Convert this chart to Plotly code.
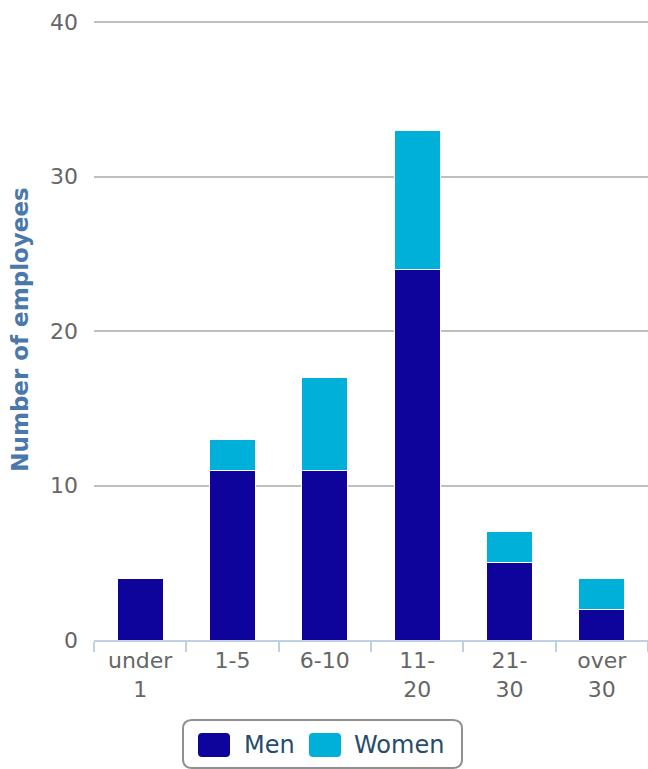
import plotly.graph_objects as go

categories = ["under<br>1", "1-5", "6-10", "11-<br>20", "21-<br>30", "over<br>30"]
men = [4, 11, 11, 24, 5, 2]
women = [0, 2, 6, 9, 2, 2]
series = [("Men", men, "#0e039b"), ("Women", women, "#00b0d8")]
y_ticks = [0, 10, 20, 30, 40]

W, H = 648, 769
ML, MR, MT, MB = 94, 0, 19, 129
PW, PH = W - ML - MR, H - MT - MB


def px(x):
    return (x - ML) / PW


def py(y):
    return (H - MB - y) / PH


def rounded_rect(x0, y0, x1, y1, r):
    # pixel coords -> paper path
    pts = [
        ("M", (x0 + r, y0)), ("L", (x1 - r, y0)), ("Q", (x1, y0), (x1, y0 + r)),
        ("L", (x1, y1 - r)), ("Q", (x1, y1), (x1 - r, y1)), ("L", (x0 + r, y1)),
        ("Q", (x0, y1), (x0, y1 - r)), ("L", (x0, y0 + r)), ("Q", (x0, y0), (x0 + r, y0)),
    ]
    s = ""
    for p in pts:
        cmd = p[0]
        coords = " ".join(f"{px(a):.5f},{py(b):.5f}" for a, b in p[1:])
        s += f"{cmd}{coords} "
    return s + "Z"


fig = go.Figure()
for name, vals, color in series:
    fig.add_trace(go.Bar(x=categories, y=vals, name=name,
                         marker=dict(color=color, line=dict(color="white", width=1)),
                         showlegend=False))

shapes = [dict(type="path", xref="paper", yref="paper",
               path=rounded_rect(183, 720, 462, 768, 9),
               line=dict(color="#909090", width=2), fillcolor="white", layer="above")]
annotations = []
legend_items = [(198, 242), (309, 352)]
for (name, vals, color), (sx, tx) in zip(series, legend_items):
    shapes.append(dict(type="path", xref="paper", yref="paper",
                       path=rounded_rect(sx, 733, sx + 32, 757, 4),
                       line=dict(width=0), fillcolor=color, layer="above"))
    annotations.append(dict(text=name, xref="paper", yref="paper", x=px(tx), y=py(745),
                            xanchor="left", yanchor="middle", showarrow=False,
                            font=dict(size=24, color="#274b6d")))

fig.update_layout(
    barmode="stack",
    bargap=0.5,
    width=W, height=H,
    margin=dict(l=ML, r=MR, t=MT, b=MB),
    plot_bgcolor="white", paper_bgcolor="white",
    font=dict(family="DejaVu Sans, Verdana, sans-serif", size=22, color="#666666"),
    showlegend=False,
    shapes=shapes,
    annotations=annotations,
    xaxis=dict(
        showline=True, linecolor="#c0d0e0", linewidth=2,
        ticks="outside", tickson="boundaries", ticklen=10, tickcolor="#c0d0e0", tickwidth=2,
        tickfont=dict(size=22, color="#666666"),
        showgrid=False,
    ),
    yaxis=dict(
        range=[0, 40.2], tickvals=y_ticks, showgrid=True, gridcolor="#c0c0c0", gridwidth=1.5,
        zeroline=False, ticks="", tickfont=dict(size=22, color="#666666"),
        ticklabelstandoff=15,
        title=dict(text="<b>Number of employees</b>", font=dict(size=23, color="#4a78aa"), standoff=14),
    ),
)

fig.write_html("out.html")
